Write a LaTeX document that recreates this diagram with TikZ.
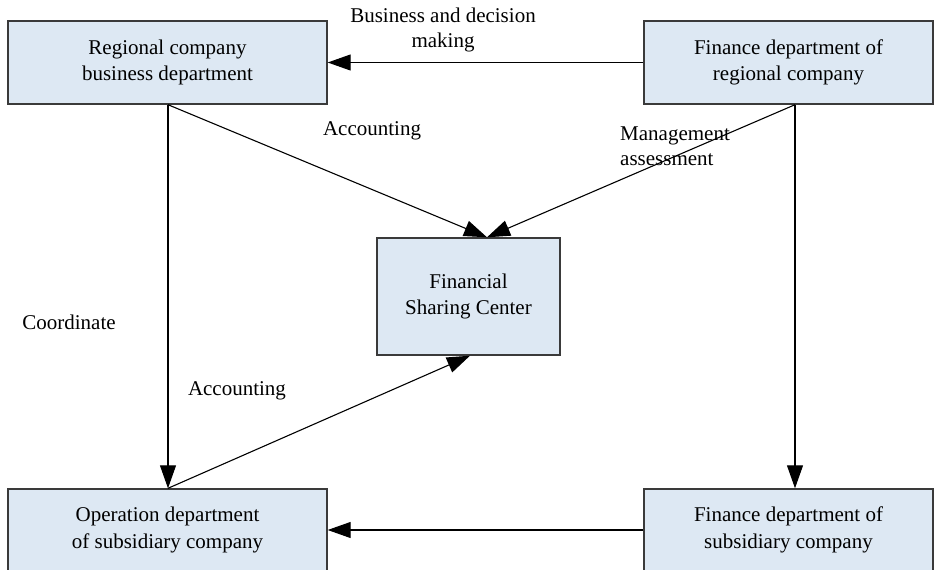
\documentclass[tikz,border=0pt]{standalone}
\usepackage{fontspec}
\setmainfont{Liberation Serif}
\usetikzlibrary{arrows.meta}
\definecolor{boxfill}{HTML}{DDE8F3}
\definecolor{boxline}{HTML}{3A3A3A}
\tikzset{
  unit/.style={rectangle, draw=boxline, fill=boxfill, line width=1.4pt,
    align=center, inner sep=0pt, font=\fontsize{21}{26.5}\selectfont},
  flow/.style={draw=black, line width=1.1pt,
    -{Triangle[length=23pt,width=16pt]}},
  lbl/.style={font=\fontsize{21}{24.5}\selectfont, inner sep=0pt}
}
\begin{document}
\begin{tikzpicture}[x=1pt,y=-1pt]
\useasboundingbox (0,0) rectangle (935,570);

% departments
\node[unit, minimum width=319pt, minimum height=83pt] (rbd) at (167.5,62.5)
  {Regional company\\business department};
\node[unit, minimum width=289pt, minimum height=83pt] (rfd) at (788.5,62.5)
  {Finance department of\\regional company};
\node[unit, minimum width=183pt, minimum height=117pt] (fsc) at (468.5,296.5)
  {Financial\\Sharing Center};
\node[unit, minimum width=319pt, minimum height=82pt] (sod) at (167.5,530)
  {Operation department\\of subsidiary company};
\node[unit, minimum width=289pt, minimum height=82pt] (sfd) at (788.5,530)
  {Finance department of\\subsidiary company};

% anchor points on the box edges
\coordinate (rbdB) at ([xshift=0.5pt]rbd.south);
\coordinate (rfdB) at ([xshift=6.5pt]rfd.south);
\coordinate (fscT) at ([xshift=18.5pt]fsc.north);
\coordinate (fscB) at ([xshift=1.5pt]fsc.south);
\coordinate (sodT) at ([xshift=0.5pt]sod.north);
\coordinate (sfdT) at ([xshift=6.5pt]sfd.north);

% connectors
\draw[flow] (rfd.west) -- (rbd.east);
\draw[flow] (rbdB) -- (fscT);
\draw[flow] (rfdB) -- (fscT);
\draw[flow] (rbdB) -- (sodT);
\draw[flow] (rfdB) -- (sfdT);
\draw[flow] (sodT) -- (fscB);
\draw[flow] (sfd.west) -- (sod.east);

% labels
\node[lbl, align=center] (l1) at (443,30) {Business and decision\\making};
\node[lbl] (l2) at (372,131) {Accounting};
\node[lbl, align=left, anchor=west] (l3) at (620,146) {Management\\assessment};
\node[lbl] (l4) at (69,322) {Coordinate};
\node[lbl] (l5) at (237,391) {Accounting};
\end{tikzpicture}
\end{document}
